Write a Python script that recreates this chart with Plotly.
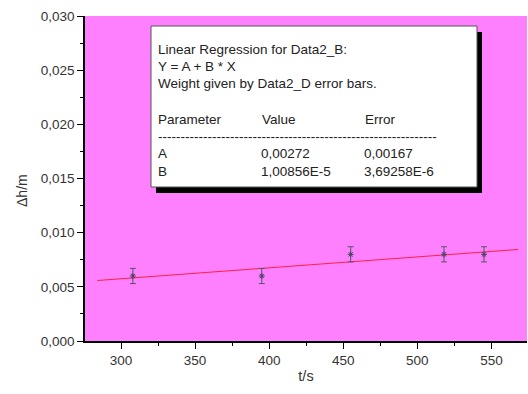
import plotly.graph_objects as go

# ---- data ----
t_s = [308, 395, 455, 518, 545]
dh_m = [0.0060, 0.0060, 0.0080, 0.0080, 0.0080]
dh_err = [0.0007, 0.0007, 0.0007, 0.0007, 0.0007]

fit_A = 0.00272
fit_B = 1.00856e-5
fit_x = [284, 568]
fit_y = [fit_A + fit_B * x for x in fit_x]

param_names = ["A", "B"]
param_values = ["0,00272", "1,00856E-5"]
param_errors = ["0,00167", "3,69258E-6"]

x_range = [275.7, 574]
y_range = [0, 0.030]

# ---- layout geometry (pixels) ----
W, H = 528, 394
L, R, T, B = 85, 1, 16, 53
PW, PH = W - L - R, H - T - B


def px(x):
    return (x - L) / PW


def py(y):
    return (H - B - y) / PH


FONT = "Arial, Liberation Sans, sans-serif"

fig = go.Figure()

fig.add_trace(go.Scatter(
    x=fit_x, y=fit_y, mode="lines",
    line=dict(color="#ff2040", width=1), showlegend=False, hoverinfo="skip"))

fig.add_trace(go.Scatter(
    x=t_s, y=dh_m, mode="markers",
    marker=dict(symbol="asterisk-open", size=5, color="#444466",
                line=dict(color="#444466", width=1)),
    error_y=dict(type="data", array=dh_err, visible=True,
                 color="#555566", thickness=1, width=3),
    showlegend=False))

shapes = []
# shadow
shapes.append(dict(type="rect", xref="paper", yref="paper",
                   x0=px(156), x1=px(482), y0=py(193), y1=py(32),
                   fillcolor="black", line=dict(width=0), layer="above"))
# box
shapes.append(dict(type="rect", xref="paper", yref="paper",
                   x0=px(151), x1=px(477), y0=py(187), y1=py(26),
                   fillcolor="white", line=dict(color="#555555", width=1),
                   layer="above"))

annotations = []


def txt(x, y, s, size=13.5):
    annotations.append(dict(xref="paper", yref="paper", x=px(x), y=py(y),
                            text=s, showarrow=False, xanchor="left",
                            yanchor="middle",
                            font=dict(family=FONT, size=size, color="#222222")))


txt(156, 49, "Linear Regression for Data2_B:")
txt(156, 66, "Y = A + B * X")
txt(156, 83, "Weight given by Data2_D error bars.")
txt(156, 119, "Parameter")
txt(260, 119, "Value")
txt(363, 119, "Error")
txt(156, 136, "-" * 62)
for i, name in enumerate(param_names):
    yy = 153.5 + i * 17.5
    txt(156, yy, name)
    txt(259, yy, param_values[i])
    txt(362, yy, param_errors[i])

# y-axis title
annotations.append(dict(xref="paper", yref="paper", x=px(22), y=py(191),
                        text="Δh/m", textangle=-90, showarrow=False,
                        xanchor="center", yanchor="middle",
                        font=dict(family=FONT, size=14, color="#333333")))

fig.update_layout(
    width=W, height=H,
    margin=dict(l=L, r=R, t=T, b=B),
    paper_bgcolor="white",
    plot_bgcolor="#ff80ff",
    separators=",.",
    font=dict(family=FONT, size=13.5, color="#333333"),
    shapes=shapes,
    annotations=annotations,
    xaxis=dict(range=x_range, dtick=50, tick0=0, ticks="outside", ticklen=6,
               tickwidth=1, tickcolor="black", showline=True, linecolor="black",
               linewidth=1.5, showgrid=False, zeroline=False,
               minor=dict(dtick=25, tick0=0, ticks="outside", ticklen=3,
                          tickcolor="black", showgrid=False),
               title=dict(text="t/s", standoff=4,
                          font=dict(family=FONT, size=14.5, color="#333333"))),
    yaxis=dict(range=y_range, dtick=0.005, tick0=0, ticks="outside", ticklen=6,
               tickwidth=1, tickcolor="black", showline=True, linecolor="black",
               linewidth=1.5, showgrid=False, zeroline=False, tickformat=".3f",
               minor=dict(dtick=0.0025, tick0=0, ticks="outside", ticklen=3,
                          tickcolor="black", showgrid=False)),
)

fig.write_html("out.html")
